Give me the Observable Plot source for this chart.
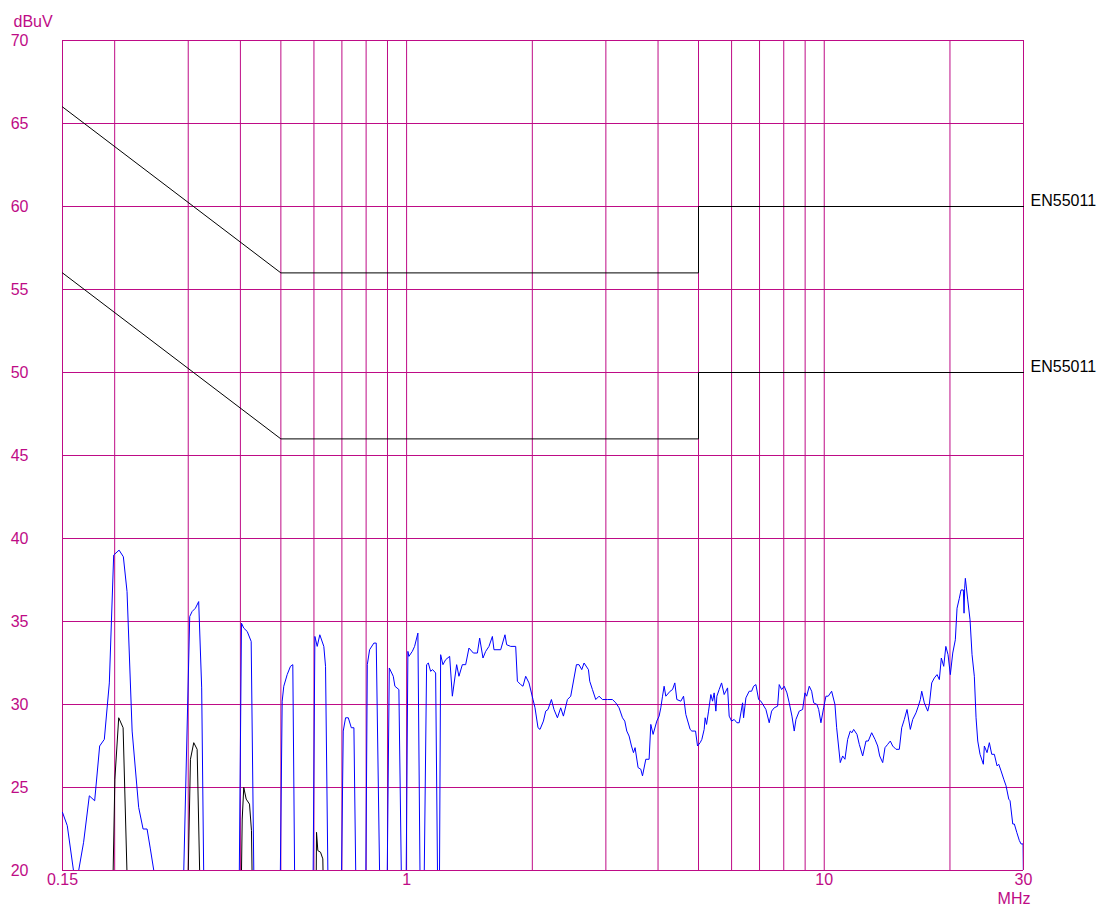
<!DOCTYPE html>
<html>
<head>
<meta charset="utf-8">
<script src="https://cdn.jsdelivr.net/npm/d3@7"></script>
<script src="https://cdn.jsdelivr.net/npm/@observablehq/plot@0.6"></script>
<style>
  html, body { margin: 0; padding: 0; background: #ffffff; }
  #chart svg { display: block; }
</style>
</head>
<body>
<div id="chart"></div>
<script>
// ---- Axis / grid values ----
const yGrid = [20, 25, 30, 35, 40, 45, 50, 55, 60, 65, 70];
const xGrid = [0.15, 0.2, 0.3, 0.4, 0.5, 0.6, 0.7, 0.8, 0.9, 1, 2, 3, 4, 5, 6, 7, 8, 9, 10, 20, 30];
const xTickValues = [0.15, 1, 10, 30];
const xTickLabels = ["0.15", "1", "10", "30"];
const yUnit = "dBuV";
const xUnit = "MHz";

// ---- EN55011 limit lines (MHz, dBuV) ----
const quasiPeakLimit = [[0.15, 66], [0.5, 56], [5, 56], [5, 60], [30, 60]];
const averageLimit = [[0.15, 56], [0.5, 46], [5, 46], [5, 50], [30, 50]];
const limitLabelLevels = [60, 50];
const limitLabelTexts = ["EN55011", "EN55011"];

// ---- Measured peak trace (MHz, dBuV); values below 20 fall off the chart ----
const peakTrace = [
  [0.150,23.5],[0.154,22.7],[0.1614,19.0],[0.1685,21.7],[0.1739,24.5],[0.1791,24.2],[0.1841,27.5],[0.1889,27.9],[0.1942,31.3],[0.1989,39.0],
  [0.2049,39.3],[0.2098,38.9],[0.2141,36.8],[0.2202,28.4],[0.2283,23.8],[0.2339,22.5],[0.2391,22.5],[0.2435,21.3],[0.2518,19],[0.2921,19],
  [0.3025,35.3],[0.3065,35.6],[0.3121,35.8],[0.3178,36.2],[0.3231,31.0],[0.327,19],[0.3973,19],[0.4024,34.9],[0.4075,34.6],[0.4153,34.4],
  [0.4245,33.8],[0.4311,19],[0.4981,19],[0.5036,30.2],[0.5081,31.1],[0.5177,31.8],[0.5272,32.3],[0.534,32.4],[0.5397,19],[0.597,19],
  [0.6031,34.1],[0.6109,33.5],[0.6197,34.2],[0.6336,33.5],[0.6396,32.3],[0.6485,19],[0.698,19],[0.7052,28.4],[0.7143,29.2],[0.7251,29.2],
  [0.7373,28.6],[0.7479,28.6],[0.7562,19],[0.7985,19],[0.8052,32.4],[0.8155,33.3],[0.835,33.7],[0.8459,33.7],[0.8627,19],[0.8981,19],
  [0.909,32.2],[0.9292,31.7],[0.9375,31.1],[0.9584,30.9],[0.9723,19],[0.9972,19],[1.0072,33.2],[1.0128,32.9],[1.032,33.2],[1.0451,33.5],
  [1.0643,34.3],[1.0774,19],[1.1013,19],[1.1166,32.4],[1.1272,32.5],[1.1416,32.0],[1.1543,32.1],[1.1736,31.9],[1.1867,19],[1.1985,19],
  [1.2065,33.0],[1.2219,32.4],[1.2403,32.7],[1.2679,32.9],[1.2869,30.5],[1.3178,32.4],[1.3346,31.7],[1.3599,32.4],[1.3849,32.4],[1.4103,33.4],
  [1.445,33.1],[1.4772,33.1],[1.4961,34.0],[1.5236,32.8],[1.5465,33.2],[1.5749,33.5],[1.6047,34.1],[1.6189,33.3],[1.6799,33.3],[1.7202,34.2],
  [1.7364,33.6],[1.7752,33.5],[1.8248,33.5],[1.842,31.4],[1.8759,31.2],[1.8998,31.1],[1.9283,31.7],[1.9638,31.3],[2.0076,30.3],[2.0298,29.8],
  [2.0637,28.6],[2.0866,28.5],[2.1261,29.0],[2.1532,29.6],[2.1807,29.7],[2.222,30.3],[2.2541,29.7],[2.2968,29.2],[2.339,29.8],[2.3741,29.3],
  [2.4271,30.3],[2.4717,30.5],[2.5508,32.4],[2.5877,32.4],[2.6266,32.1],[2.6601,32.5],[2.7254,32.1],[2.745,31.4],[2.7861,30.9],[2.8373,30.3],
  [2.8895,30.5],[2.9442,30.3],[3.0266,30.3],[3.1113,30.3],[3.1685,30.1],[3.2267,29.8],[3.2878,29.2],[3.3297,29.0],[3.3667,28.4],[3.4097,28.1],
  [3.4552,27.5],[3.4935,27.1],[3.5245,27.4],[3.5834,26.2],[3.6372,26.1],[3.6714,25.7],[3.739,26.7],[3.8077,26.7],[3.8435,28.8],[3.8927,28.2],
  [3.973,29.0],[4.0237,29.3],[4.0616,29.8],[4.1,30.5],[4.1363,31.1],[4.1753,30.5],[4.2755,30.8],[4.3325,30.9],[4.3878,31.3],[4.4366,30.3],
  [4.5356,30.2],[4.6037,30.5],[4.6624,29.4],[4.7743,28.5],[4.8193,28.4],[4.9188,28.4],[4.9733,27.5],[5.0453,27.7],[5.0929,27.9],[5.158,28.5],
  [5.1865,29.2],[5.2267,28.8],[5.2847,29.6],[5.3521,30.6],[5.4027,30.2],[5.4505,30.7],[5.5018,29.6],[5.5323,30.5],[5.6029,30.9],[5.6776,31.3],
  [5.7596,30.6],[5.8687,31.0],[5.9209,29.3],[6.0,29.0],[6.0867,29.1],[6.1782,28.9],[6.257,28.9],[6.3755,30.1],[6.4107,29.2],[6.4926,30.4],
  [6.6119,30.8],[6.7001,30.8],[6.7744,31.1],[6.8608,31.2],[6.9639,30.3],[7.0528,30.2],[7.2501,29.7],[7.3835,28.9],[7.4819,29.6],[7.5899,29.8],
  [7.7338,29.9],[7.8024,31.2],[7.9064,30.9],[8.0207,31.1],[8.1411,30.7],[8.245,30.1],[8.3689,29.3],[8.4757,28.4],[8.5555,29.1],[8.7128,29.6],
  [8.878,29.7],[8.9914,30.7],[9.076,30.5],[9.2071,31.1],[9.3303,30.8],[9.4338,30.1],[9.6072,30.0],[9.6978,29.7],[9.8195,28.9],[9.9669,29.8],
  [10.094,30.5],[10.223,30.5],[10.417,30.8],[10.608,30.0],[10.708,28.6],[10.923,26.5],[11.069,26.9],[11.21,26.7],[11.379,27.9],[11.543,28.4],
  [11.652,28.3],[11.762,28.5],[11.978,28.2],[12.131,27.6],[12.361,26.9],[12.588,27.8],[12.749,27.8],[12.99,28.3],[13.229,27.9],[13.428,27.5],
  [13.576,26.9],[13.803,26.5],[13.979,27.4],[14.189,27.6],[14.394,27.8],[14.586,27.5],[14.854,27.3],[15.127,27.3],[15.329,28.6],[15.551,29.1],
  [15.784,29.7],[16.074,28.5],[16.288,29.1],[16.588,29.5],[16.799,29.9],[16.986,30.3],[17.117,30.8],[17.364,30.1],[17.693,29.6],[17.85,30.0],
  [18.088,31.3],[18.35,31.6],[18.625,31.8],[18.862,31.5],[19.071,32.8],[19.325,32.3],[19.551,33.5],[19.789,33.0],[20.041,31.8],[20.309,33.1],
  [20.602,33.9],[20.797,35.8],[21.062,36.4],[21.26,36.9],[21.532,36.9],[21.615,35.5],[21.687,37.0],[21.771,37.6],[22.061,36.3],[22.342,35.1],
  [22.59,33.0],[22.878,31.7],[23.094,29.2],[23.311,27.8],[23.608,27.0],[24.042,26.4],[24.175,27.5],[24.538,27.1],[24.851,27.7],[25.182,27.0],
  [25.546,27.0],[25.929,26.3],[26.174,26.4],[26.508,26.0],[26.905,25.5],[27.248,25.1],[27.657,24.3],[27.856,24.2],[28.274,22.8],[28.525,22.8],
  [28.906,22.3],[29.323,21.8],[29.599,21.6],[29.928,21.6],[30.0,19.0]
];

// ---- Measured average trace (MHz, dBuV); mostly below 20 ----
const averageTrace = [
  [0.15,19],[0.198,19],[0.2002,25.5],[0.2045,29.2],[0.2095,28.6],[0.2145,19],
  [0.2995,19],[0.3037,26.7],[0.3093,27.7],[0.3151,27.3],[0.3201,19],
  [0.4019,19],[0.404,23.1],[0.4075,25.0],[0.413,24.3],[0.4206,24.0],[0.4252,22.4],[0.4271,19],
  [0.6073,19],[0.6086,22.3],[0.613,21.2],[0.6222,21.1],[0.6301,20.7],[0.6319,19],
  [30,19]
];

const magenta = "#be0b86";
const font = "'Liberation Sans', Arial, Helvetica, sans-serif";

const chart = Plot.plot({
  width: 1106,
  height: 913,
  marginLeft: 62,
  marginRight: 83,
  marginTop: 40,
  marginBottom: 43,
  x: {type: "log", domain: [0.15, 30], axis: null},
  y: {domain: [20, 70], axis: null},
  style: {fontFamily: font, background: "#ffffff", overflow: "visible"},
  marks: [
    Plot.ruleY(yGrid, {y: d => d, stroke: magenta, strokeWidth: 1}),
    Plot.ruleX(xGrid, {x: d => d, stroke: magenta, strokeWidth: 1}),
    Plot.line(quasiPeakLimit, {x: d => d[0], y: d => d[1], stroke: "#000000", strokeWidth: 1}),
    Plot.line(averageLimit, {x: d => d[0], y: d => d[1], stroke: "#000000", strokeWidth: 1}),
    Plot.line(averageTrace, {x: d => d[0], y: d => d[1], stroke: "#000000", strokeWidth: 1, clip: true}),
    Plot.line(peakTrace, {x: d => d[0], y: d => d[1], stroke: "#0000ff", strokeWidth: 1, clip: true}),
    Plot.text(yGrid, {y: d => d, text: d => String(d), frameAnchor: "left", dx: -34, textAnchor: "end", fill: magenta, fontSize: 16}),
    Plot.text(xTickValues, {x: d => d, text: (d, i) => xTickLabels[i], frameAnchor: "bottom", dy: 14, fill: magenta, fontSize: 16}),
    Plot.text([yUnit], {text: d => d, frameAnchor: "top-left", dx: -49, dy: -25, textAnchor: "start", fill: magenta, fontSize: 16}),
    Plot.text([xUnit], {text: d => d, frameAnchor: "bottom-right", dx: 7, dy: 33, fill: magenta, fontSize: 16}),
    Plot.text(limitLabelLevels, {x: () => 30, y: d => d, text: (d, i) => limitLabelTexts[i], dx: 7, dy: -6, textAnchor: "start", fill: "#000000", fontSize: 16})
  ]
});
document.getElementById("chart").appendChild(chart);
</script>
</body>
</html>
